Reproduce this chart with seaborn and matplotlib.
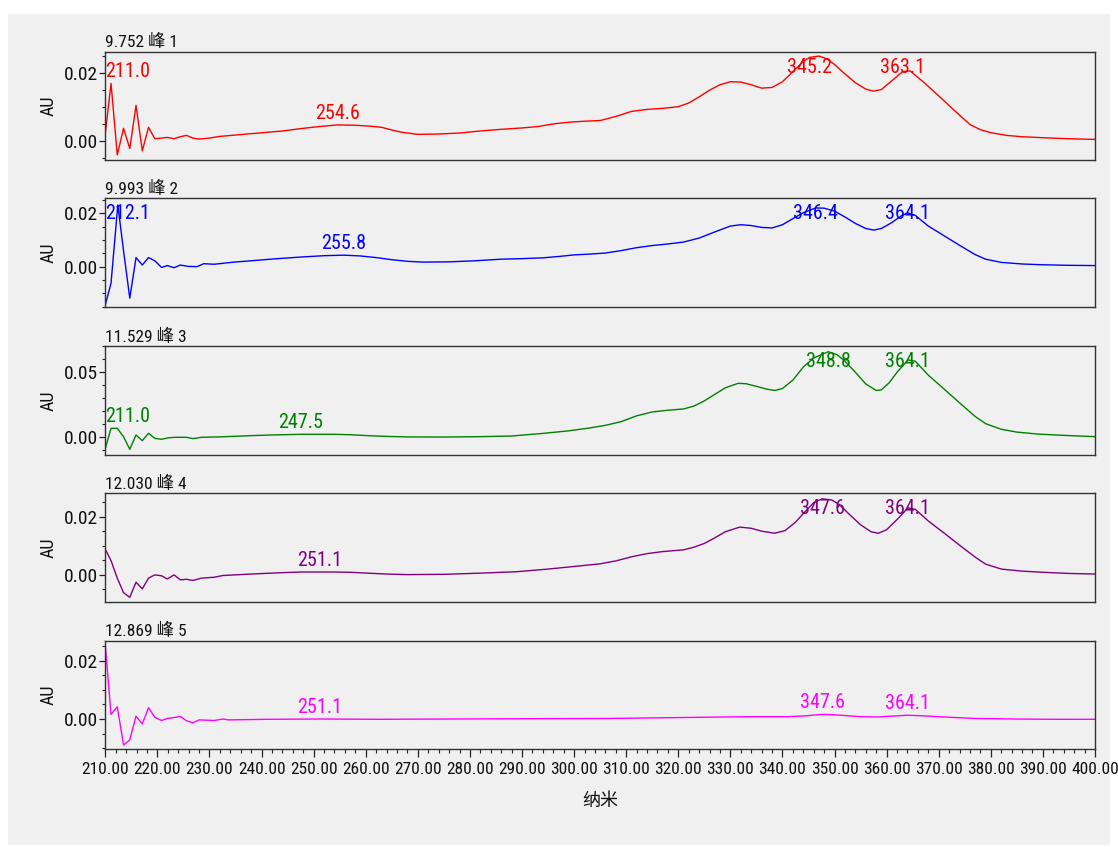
import numpy as np
import pandas as pd
import matplotlib
matplotlib.use("Agg")
import matplotlib.pyplot as plt
from matplotlib import font_manager
from matplotlib.ticker import MultipleLocator, FormatStrFormatter
from matplotlib.patches import Rectangle
import seaborn as sns

# ---------------- data ----------------
titles = ["9.752 峰 1", "9.993 峰 2", "11.529 峰 3", "12.030 峰 4", "12.869 峰 5"]
colors = ["#ff0000", "#0000ff", "#008000", "#800080", "#ff00ff"]
x_label = "纳米"
y_label = "AU"

wl1 = [210.0, 211.1, 212.3, 213.5, 214.7, 215.9, 217.1, 218.3, 219.5, 220.8, 221.9, 223.2, 224.4, 225.6,
       226.8, 228.0, 230.0, 232.0, 235.0, 238.0, 241.0, 244.0, 247.5, 251.0, 254.6, 258.0, 261.0, 263.0,
       265.0, 267.0, 270.0, 274.0, 278.0, 282.0, 286.0, 290.0, 293.0, 296.0, 299.0, 302.0, 305.0, 308.0,
       311.0, 314.0, 317.0, 320.0, 322.0, 324.0, 326.0, 328.0, 330.0, 332.0, 334.0, 336.0, 338.0, 340.0,
       342.0, 344.0, 345.2, 347.0, 348.5, 350.0, 352.0, 354.0, 356.0, 357.5, 359.0, 361.0, 363.1, 364.5,
       367.0, 370.0, 373.0, 376.0, 378.0, 380.0, 383.0, 386.0, 390.0, 395.0, 400.0]
au1 = [0.0022, 0.0170, -0.0042, 0.0037, -0.0023, 0.0105, -0.0030, 0.0040, 0.0006, 0.0008, 0.0010, 0.0006,
       0.0012, 0.0016, 0.0008, 0.0005, 0.0008, 0.0013, 0.0017, 0.0021, 0.0025, 0.0029, 0.0036, 0.0042,
       0.0047, 0.0046, 0.0043, 0.0040, 0.0032, 0.0025, 0.0019, 0.0020, 0.0023, 0.0029, 0.0034, 0.0038,
       0.0042, 0.0050, 0.0055, 0.0058, 0.0060, 0.0072, 0.0087, 0.0093, 0.0096, 0.0101, 0.0112, 0.0130,
       0.0150, 0.0166, 0.0175, 0.0174, 0.0166, 0.0156, 0.0158, 0.0175, 0.0205, 0.0235, 0.0247, 0.0251,
       0.0243, 0.0226, 0.0198, 0.0172, 0.0153, 0.0147, 0.0152, 0.0178, 0.0205, 0.0207, 0.0175, 0.0133,
       0.0090, 0.0048, 0.0033, 0.0024, 0.0016, 0.0012, 0.0009, 0.0006, 0.0004]
peaks1 = [211.0, 254.6, 345.2, 363.1]

wl2 = [210.0, 211.1, 212.4, 213.5, 214.7, 215.9, 217.1, 218.3, 219.5, 220.8, 221.9, 223.2, 224.4, 225.9,
       227.6, 228.9, 230.9, 234.7, 238.0, 242.4, 247.5, 252.0, 255.8, 259.0, 262.0, 265.0, 268.0, 271.0,
       276.0, 281.0, 286.0, 290.0, 294.0, 297.0, 300.0, 303.0, 306.0, 309.0, 312.0, 315.0, 318.0, 321.0,
       324.0, 327.0, 330.0, 332.0, 334.0, 336.0, 338.0, 340.0, 342.0, 344.0, 346.4, 348.0, 350.0, 352.0,
       354.0, 356.0, 357.5, 359.0, 361.0, 363.0, 364.1, 365.5, 368.0, 371.0, 374.0, 377.0, 379.0, 382.0,
       386.0, 390.0, 395.0, 400.0]
au2 = [-0.0143, -0.0062, 0.0231, 0.0060, -0.0118, 0.0034, 0.0006, 0.0034, 0.0022, -0.0003, 0.0004,
       -0.0004, 0.0006, 0.0001, 0.0000, 0.0011, 0.0009, 0.0017, 0.0022, 0.0029, 0.0036, 0.0041, 0.0043,
       0.0040, 0.0034, 0.0026, 0.0020, 0.0017, 0.0018, 0.0022, 0.0028, 0.0030, 0.0033, 0.0038, 0.0044,
       0.0047, 0.0051, 0.0060, 0.0071, 0.0079, 0.0085, 0.0092, 0.0107, 0.0130, 0.0152, 0.0157, 0.0154,
       0.0147, 0.0145, 0.0157, 0.0180, 0.0202, 0.0220, 0.0219, 0.0208, 0.0186, 0.0162, 0.0143, 0.0137,
       0.0143, 0.0165, 0.0193, 0.0201, 0.0192, 0.0152, 0.0116, 0.0080, 0.0045, 0.0028, 0.0016, 0.0010,
       0.0007, 0.0005, 0.0004]
peaks2 = [212.1, 255.8, 346.4, 364.1]

wl3 = [210.0, 211.1, 212.3, 213.5, 214.7, 215.9, 217.1, 218.3, 219.5, 220.8, 222.0, 223.2, 224.4, 225.6,
       226.8, 228.5, 231.7, 235.0, 238.1, 242.0, 247.5, 253.9, 257.0, 260.3, 264.0, 268.0, 275.0, 282.0,
       288.0, 294.0, 299.0, 303.0, 306.0, 309.0, 312.0, 315.0, 318.0, 321.0, 323.0, 325.0, 327.0, 329.0,
       331.5, 333.0, 335.0, 337.0, 338.5, 340.0, 342.0, 344.0, 346.0, 348.8, 350.5, 352.0, 354.0, 356.0,
       358.0, 359.0, 360.5, 362.0, 364.1, 365.5, 368.0, 371.0, 374.0, 377.0, 379.0, 382.0, 385.0, 389.0,
       394.0, 400.0]
au3 = [-0.0085, 0.0069, 0.0069, 0.0005, -0.0092, 0.0018, -0.0026, 0.0031, -0.0008, -0.0015, -0.0005,
       0.0000, 0.0000, 0.0000, -0.0010, 0.0000, 0.0003, 0.0008, 0.0013, 0.0018, 0.0023, 0.0023, 0.0020,
       0.0013, 0.0007, 0.0003, 0.0002, 0.0005, 0.0010, 0.0030, 0.0050, 0.0072, 0.0092, 0.0120, 0.0165,
       0.0195, 0.0208, 0.0218, 0.0240, 0.0280, 0.0330, 0.0380, 0.0415, 0.0412, 0.0392, 0.0370, 0.0360,
       0.0375, 0.0440, 0.0540, 0.0610, 0.0658, 0.0635, 0.0585, 0.0500, 0.0410, 0.0360, 0.0365, 0.0420,
       0.0500, 0.0595, 0.0585, 0.0478, 0.0372, 0.0265, 0.0160, 0.0105, 0.0062, 0.0040, 0.0025, 0.0015,
       0.0005]
peaks3 = [211.0, 247.5, 348.8, 364.1]

wl4 = [210.0, 211.1, 212.3, 213.5, 214.7, 215.9, 217.1, 218.3, 219.5, 220.8, 221.9, 223.2, 224.4, 225.6,
       226.8, 228.5, 230.9, 232.6, 238.1, 243.0, 247.5, 253.9, 257.0, 260.3, 264.0, 268.0, 275.0, 282.0,
       289.0, 295.0, 300.0, 305.0, 308.0, 311.0, 314.0, 317.0, 321.0, 323.0, 325.0, 327.0, 329.0, 331.8,
       334.0, 336.0, 338.5, 340.5, 342.5, 344.5, 346.0, 347.6, 349.5, 351.0, 353.0, 355.0, 357.0, 358.4,
       360.0, 362.0, 364.1, 365.5, 368.0, 371.0, 374.0, 377.0, 379.0, 382.0, 386.0, 390.0, 395.0, 400.0]
au4 = [0.0088, 0.0049, -0.0011, -0.0061, -0.0077, -0.0025, -0.0048, -0.0011, 0.0000, -0.0003, -0.0014,
       0.0000, -0.0017, -0.0015, -0.0019, -0.0011, -0.0008, -0.0002, 0.0003, 0.0007, 0.0010, 0.0010,
       0.0009, 0.0006, 0.0003, 0.0001, 0.0002, 0.0006, 0.0011, 0.0020, 0.0029, 0.0038, 0.0048, 0.0062,
       0.0073, 0.0080, 0.0086, 0.0095, 0.0108, 0.0127, 0.0148, 0.0164, 0.0160, 0.0150, 0.0143, 0.0152,
       0.0181, 0.0220, 0.0248, 0.0261, 0.0257, 0.0240, 0.0205, 0.0172, 0.0148, 0.0143, 0.0155, 0.0190,
       0.0230, 0.0225, 0.0185, 0.0144, 0.0102, 0.0061, 0.0037, 0.0020, 0.0013, 0.0009, 0.0005, 0.0003]
peaks4 = [251.1, 347.6, 364.1]

wl5 = [210.0, 211.1, 212.3, 213.5, 214.7, 215.9, 217.1, 218.3, 219.5, 220.8, 221.9, 223.2, 224.4, 225.6,
       226.8, 228.0, 230.9, 232.6, 233.6, 241.1, 251.1, 262.9, 275.0, 290.0, 307.1, 320.0, 333.6, 341.0,
       344.5, 347.6, 350.5, 355.0, 358.4, 361.0, 364.1, 367.0, 372.0, 377.0, 385.0, 392.0, 400.0]
au5 = [0.0254, 0.0016, 0.0042, -0.0089, -0.0072, 0.0010, -0.0017, 0.0039, 0.0006, -0.0005, 0.0002,
       0.0005, 0.0009, -0.0006, -0.0013, -0.0003, -0.0005, 0.0000, -0.0003, -0.0001, 0.0000, -0.0001,
       0.0000, 0.0001, 0.0002, 0.0005, 0.0008, 0.0008, 0.0011, 0.0016, 0.0014, 0.0008, 0.0007, 0.0010,
       0.0013, 0.0011, 0.0006, 0.0002, 0.0000, -0.0001, -0.0001]
peaks5 = [251.1, 347.6, 364.1]

wavelengths = [wl1, wl2, wl3, wl4, wl5]
absorb = [au1, au2, au3, au4, au5]
peak_labels = [peaks1, peaks2, peaks3, peaks4, peaks5]
y_limits = [(-0.0057, 0.0264), (-0.0150, 0.0256), (-0.0136, 0.0702), (-0.0094, 0.0280), (-0.0104, 0.0269)]
y_major = [0.02, 0.02, 0.05, 0.02, 0.02]
y_minor = [0.005, 0.005, 0.01, 0.005, 0.005]
x_range = (210, 400)

# ---------------- style ----------------
sns.set_theme(style="ticks")


def pick_font(cands):
    for c in cands:
        try:
            font_manager.findfont(font_manager.FontProperties(family=c), fallback_to_default=False)
            return c
        except Exception:
            pass
    return "DejaVu Sans"


latin = pick_font(["Liberation Sans Narrow", "DejaVu Sans Condensed", "Roboto Condensed", "Liberation Sans"])
plt.rcParams["font.family"] = [latin, "Noto Sans CJK SC", "DejaVu Sans"]
plt.rcParams["axes.unicode_minus"] = False

W, H = 1118, 847
fig = plt.figure(figsize=(W / 100, H / 100), dpi=100, facecolor="white")
fig.patches.append(Rectangle((8 / W, 1 - 845 / H), (1110 - 8) / W, (845 - 14) / H,
                             transform=fig.transFigure, facecolor="#f0f0f0",
                             edgecolor="none", zorder=-10))

left_px, right_px = 105.3, 1095.0
tops = [51.7, 198.3, 346.0, 493.3, 640.7]
bots = [160.0, 306.7, 455.0, 602.3, 749.3]

for i in range(5):
    t, b = tops[i], bots[i]
    ax = fig.add_axes([left_px / W, 1 - b / H, (right_px - left_px) / W, (b - t) / H])
    ax.set_facecolor("#f0f0f0")
    df = pd.DataFrame({"wl": wavelengths[i], "au": absorb[i]})
    sns.lineplot(data=df, x="wl", y="au", ax=ax, color=colors[i], linewidth=1.0,
                 estimator=None, sort=False)
    ax.set_xlim(*x_range)
    ax.set_ylim(*y_limits[i])
    ax.yaxis.set_major_locator(MultipleLocator(y_major[i]))
    ax.yaxis.set_minor_locator(MultipleLocator(y_minor[i]))
    ax.yaxis.set_major_formatter(FormatStrFormatter("%.2f"))
    ax.tick_params(axis="y", which="major", length=4.3, width=0.9, pad=0.6,
                   labelsize=14, color="#222222", labelcolor="#111111")
    ax.tick_params(axis="y", which="minor", length=2.4, width=0.8, color="#222222")
    for s in ax.spines.values():
        s.set_color("#333333")
        s.set_linewidth(1.0)
    ax.set_ylabel(y_label, fontsize=13, color="#111111")
    ax.yaxis.set_label_coords(-0.0485, 0.5)

    if i < 4:
        ax.tick_params(axis="x", which="both", bottom=False, labelbottom=False)
        ax.set_xlabel("")
    else:
        ax.xaxis.set_major_locator(MultipleLocator(10))
        ax.xaxis.set_minor_locator(MultipleLocator(2))
        ax.xaxis.set_major_formatter(FormatStrFormatter("%.2f"))
        ax.tick_params(axis="x", which="major", length=5.5, width=0.9, pad=3.5,
                       labelsize=12.5, color="#222222", labelcolor="#111111")
        ax.tick_params(axis="x", which="minor", length=3.0, width=0.8, color="#222222")
        ax.set_xlabel(x_label, fontsize=13, color="#111111")
        ax.xaxis.set_label_coords(0.5, -0.39)

    # panel title
    ax.annotate(titles[i], xy=(0, 1), xycoords="axes fraction", xytext=(0, 3.2),
                textcoords="offset points", ha="left", va="baseline",
                fontsize=12.5, color="#111111")

    # peak labels
    wl = np.asarray(wavelengths[i])
    v = np.asarray(absorb[i])
    y0, y1 = y_limits[i]
    dpp = (y1 - y0) / (b - t)
    for p in peak_labels[i]:
        m = np.abs(wl - p) <= 1.5
        pv = v[m].max() if m.any() else np.interp(p, wl, v)
        y = min(pv + 6 * dpp, y1 - 21 * dpp)
        if p - 4.5 < x_range[0]:
            ha, x = "left", x_range[0]
        else:
            ha, x = "center", p
        ax.text(x, y, f"{p:.1f}", color=colors[i], ha=ha, va="baseline", fontsize=14.5)

fig.savefig("out.png", dpi=100, facecolor=fig.get_facecolor())
